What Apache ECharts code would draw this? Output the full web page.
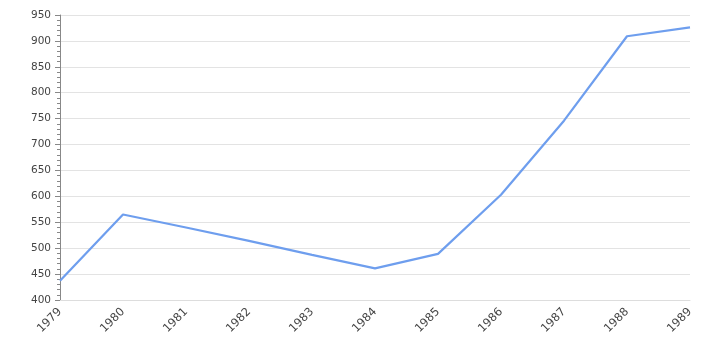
<!DOCTYPE html>
<html>
<head>
<meta charset="utf-8">
<script src="https://cdn.jsdelivr.net/npm/echarts@6/dist/echarts.min.js"></script>
<style>html,body{margin:0;padding:0;background:#fff}#c{width:720px;height:350px}</style>
</head>
<body>
<div id="c"></div>
<script>
var years = ['1979','1980','1981','1982','1983','1984','1985','1986','1987','1988','1989'];
var values = [437, 565, 540, 514, 487, 461, 489, 603, 746, 909, 926];
var yTicks = {min: 400, max: 950, interval: 50};

var chart = echarts.init(document.getElementById('c'), null, {renderer: 'canvas'});
chart.setOption({
  animation: false,
  backgroundColor: '#ffffff',
  grid: {left: 60, right: 30, top: 15, bottom: 50},
  xAxis: {
    type: 'category',
    data: years,
    boundaryGap: false,
    axisLine: {show: true, lineStyle: {color: '#dddddd'}},
    axisTick: {show: false},
    axisLabel: {rotate: 45, color: '#444', fontSize: 11.5, fontFamily: 'DejaVu Sans', margin: 10},
    splitLine: {show: false}
  },
  yAxis: {
    type: 'value',
    min: yTicks.min, max: yTicks.max, interval: yTicks.interval,
    axisLine: {show: true, lineStyle: {color: '#888888'}},
    axisTick: {show: true, length: 5, lineStyle: {color: '#888888'}},
    minorTick: {show: true, splitNumber: 5, length: 3, lineStyle: {color: '#888888'}},
    axisLabel: {color: '#444', fontSize: 10.5, fontFamily: 'DejaVu Sans', margin: 9},
    splitLine: {show: true, lineStyle: {color: '#e3e3e3'}}
  },
  series: [{
    type: 'line',
    data: values,
    symbol: 'none',
    lineStyle: {color: '#6e9eee', width: 2.2}
  }]
});
</script>
</body>
</html>
